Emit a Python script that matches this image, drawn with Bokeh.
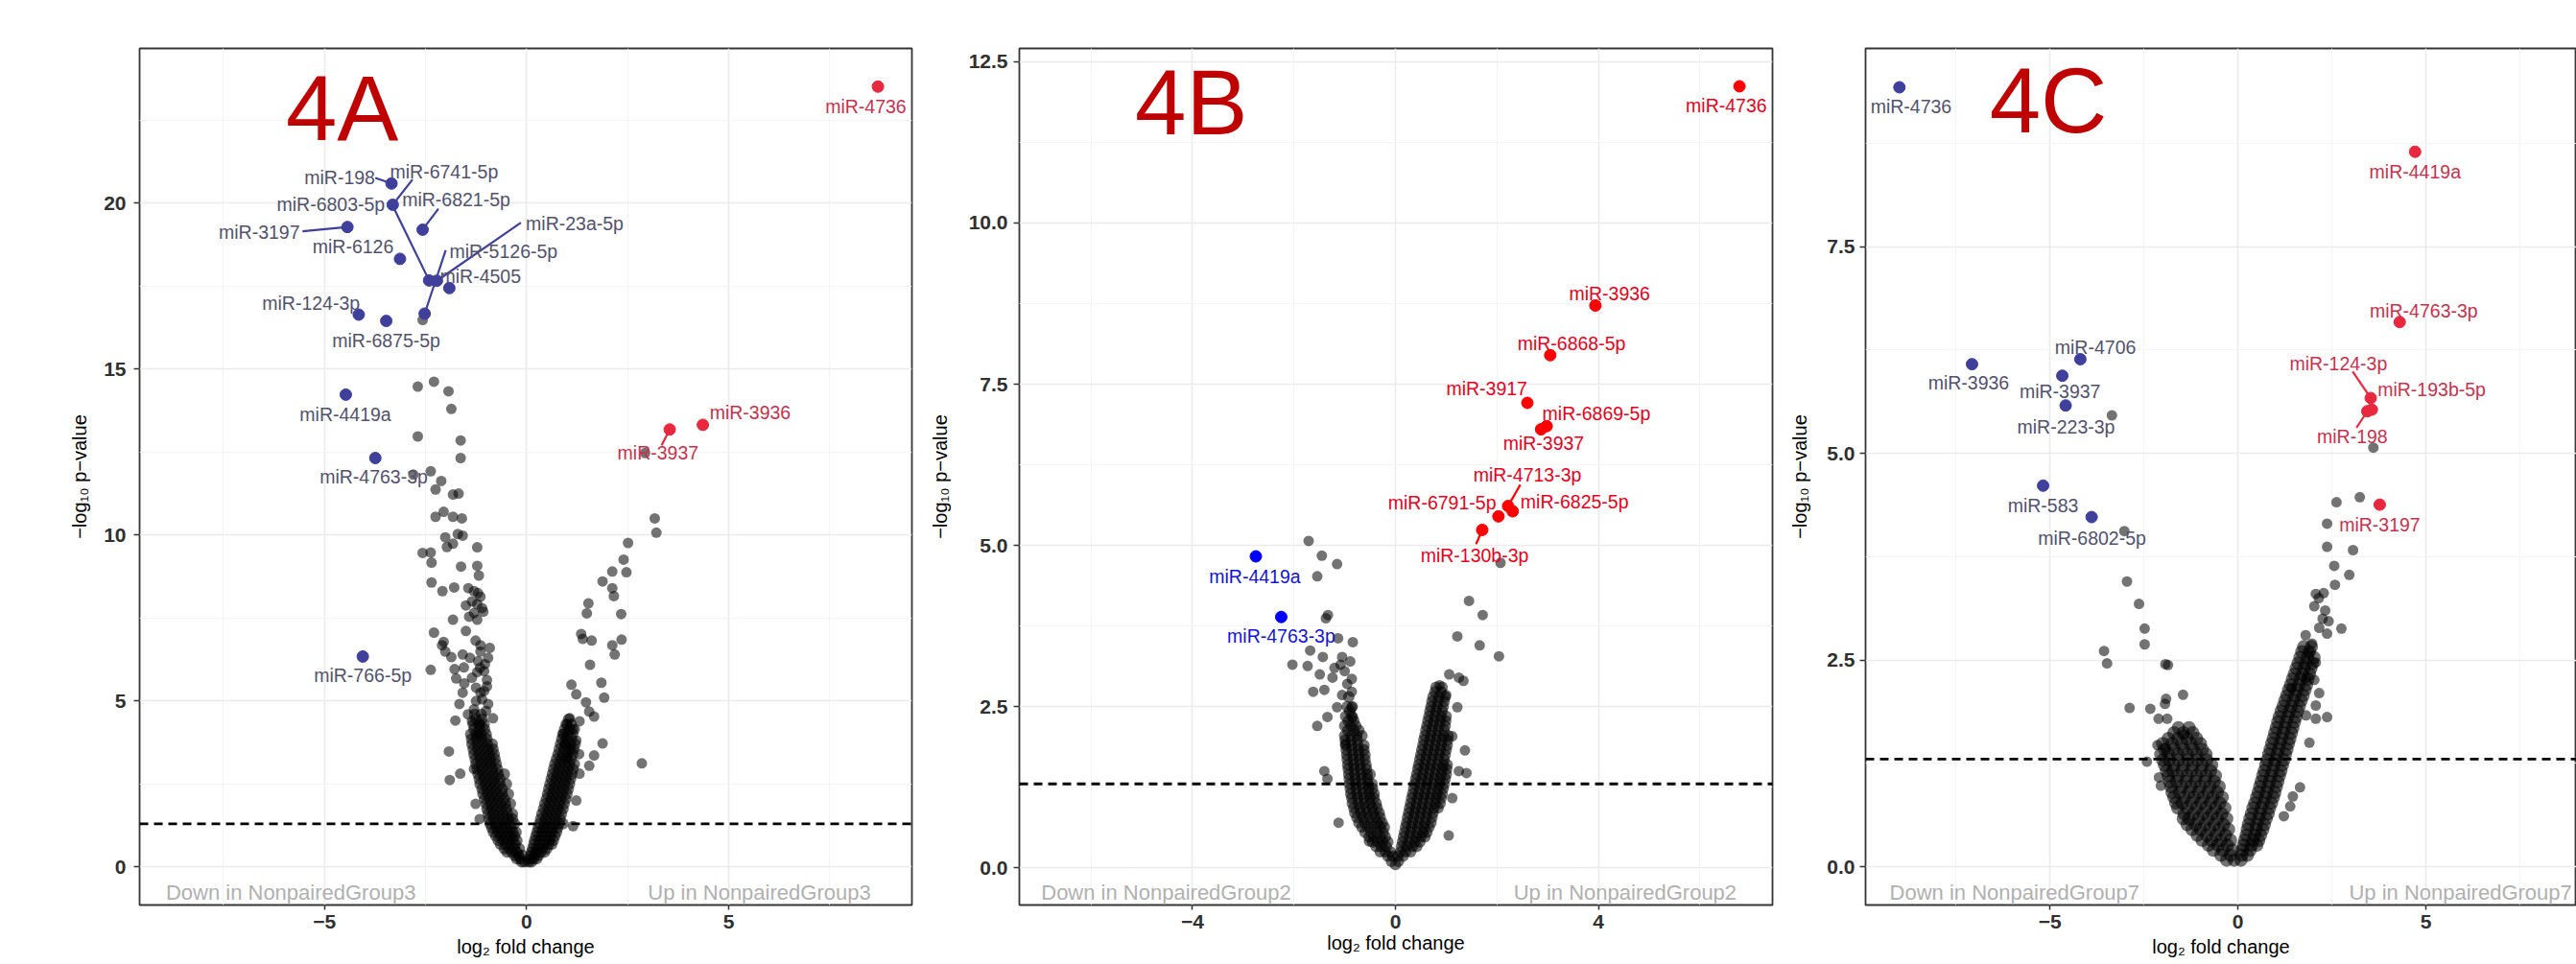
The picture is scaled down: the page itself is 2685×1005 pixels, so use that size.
import math
from bokeh.plotting import figure
from bokeh.layouts import row
from bokeh.models import FixedTicker, Span, Range1d, CustomJSTickFormatter
from bokeh.core.properties import value
from bokeh.embed import file_html
from bokeh.resources import INLINE

FONT = "Liberation Sans"
FONT_V = value(FONT)
P_THRESHOLD = 0.05

# ---------------- Panel 4A (NonpairedGroup3) ----------------
A_gray = [
    (-2.69, 14.47), (-2.29, 14.62), (-1.93, 14.33), (-1.86, 13.80), (-2.69, 12.97), (-1.63, 12.85),
    (-1.63, 12.32), (-2.80, 11.82), (-2.37, 11.92), (-2.11, 11.63), (-2.25, 11.37), (-1.82, 11.22),
    (-1.68, 11.25), (-2.25, 10.55), (-2.05, 10.70), (-1.82, 10.55), (-1.60, 10.50), (-2.01, 9.93),
    (-1.70, 10.03), (-1.58, 9.98), (-1.97, 9.64), (-1.82, 9.74), (-1.22, 9.63), (-2.57, 9.46),
    (-2.37, 9.47), (-2.35, 9.17), (-1.62, 9.05), (-1.22, 9.07), (-1.18, 8.78), (-2.35, 8.57),
    (-2.08, 8.31), (-1.79, 8.42), (-1.44, 8.40), (-1.30, 8.31), (-1.14, 8.14), (-1.50, 7.88),
    (-1.22, 7.92), (-1.07, 7.69), (-1.42, 7.54), (-1.22, 7.45), (-1.82, 7.45), (-2.29, 7.06),
    (-2.05, 6.78), (-1.50, 7.11), (-1.26, 6.82), (-1.14, 6.68), (-0.91, 6.60), (-2.01, 6.49),
    (-1.35, 8.00), (-1.20, 8.25), (-1.10, 7.80), (-1.30, 7.65),
    (-2.09, 6.68), (-1.86, 6.32), (-1.58, 6.40), (-1.40, 6.30), (-1.14, 6.49), (-1.03, 6.11),
    (-2.37, 5.94), (-1.78, 5.96), (-1.55, 6.01), (-1.74, 5.68), (-1.54, 5.53), (-1.22, 5.87),
    (-0.98, 5.63), (-1.58, 5.25), (-1.66, 4.91), (-1.30, 4.75), (-1.14, 5.25), (-0.98, 5.44),
    (-0.95, 4.91), (-1.76, 4.41), (-1.14, 4.29), (-0.83, 4.48), (-1.92, 3.48), (-1.30, 2.95),
    (-1.90, 2.62), (-1.64, 2.81), (-1.26, 1.90), (-1.16, 1.44),
    (-1.20, 6.20), (-1.05, 5.90), (-1.25, 5.40), (-1.10, 5.05), (-1.00, 4.70), (-1.35, 4.40), (-1.20, 4.00),
    (-1.45, 4.60), (-1.25, 5.00), (-1.05, 5.30), (-1.35, 5.70), (-1.15, 6.00), (-0.95, 6.30),
    (-2.57, 16.48),
    (2.93, 12.47), (3.17, 10.50), (3.21, 10.07), (2.51, 9.76), (2.40, 9.26), (2.12, 8.90),
    (2.47, 8.88), (1.88, 8.60), (2.12, 8.40), (2.16, 8.16), (1.53, 7.94), (1.49, 7.64),
    (2.34, 7.62), (1.35, 7.02), (1.61, 6.82), (2.12, 6.68), (2.35, 6.85), (1.39, 6.87),
    (2.18, 6.40), (1.57, 6.09), (1.85, 5.55), (1.92, 5.10), (1.11, 5.49), (1.23, 5.20),
    (1.47, 4.96), (1.55, 4.68), (1.67, 4.53), (1.07, 4.48), (1.31, 4.39), (0.91, 4.01),
    (1.23, 3.81), (1.88, 3.72), (1.67, 3.36), (1.55, 3.05), (1.31, 2.81), (2.85, 3.12),
    (1.23, 2.00), (1.15, 1.23),
    (1.00, 4.30), (1.15, 4.15), (0.95, 3.70), (1.10, 3.55), (1.30, 3.40), (1.00, 3.30),
]
A_core = [
    (-0.12, 0.15), (-0.05, 0.15), (0.05, 0.15), (0.12, 0.15),
    (-0.3, 0.35), (-0.2, 0.35), (-0.1, 0.35), (0.1, 0.35), (0.2, 0.35), (0.3, 0.35),
    (-0.55, 0.55), (-0.42, 0.55), (-0.3, 0.55), (-0.18, 0.55), (0.15, 0.55), (0.27, 0.55), (0.39, 0.55), (0.5, 0.55),
    (-0.7, 0.8), (-0.58, 0.8), (-0.46, 0.8), (-0.34, 0.8), (-0.24, 0.8), (0.2, 0.8), (0.32, 0.8), (0.44, 0.8), (0.56, 0.8), (0.66, 0.8),
    (-0.82, 1.05), (-0.7, 1.05), (-0.58, 1.05), (-0.46, 1.05), (-0.34, 1.05), (-0.26, 1.05),
    (0.26, 1.05), (0.38, 1.05), (0.5, 1.05), (0.62, 1.05), (0.74, 1.05),
    (-0.9, 1.3), (-0.78, 1.3), (-0.66, 1.3), (-0.54, 1.3), (-0.42, 1.3), (-0.3, 1.3),
    (0.32, 1.3), (0.44, 1.3), (0.56, 1.3), (0.68, 1.3), (0.8, 1.3), (0.9, 1.3),
    (-0.95, 1.6), (-0.83, 1.6), (-0.71, 1.6), (-0.59, 1.6), (-0.47, 1.6), (-0.35, 1.6),
    (0.38, 1.6), (0.5, 1.6), (0.62, 1.6), (0.74, 1.6), (0.86, 1.6),
    (-1.0, 1.9), (-0.88, 1.9), (-0.76, 1.9), (-0.64, 1.9), (-0.52, 1.9), (-0.4, 1.9),
    (0.45, 1.9), (0.57, 1.9), (0.69, 1.9), (0.81, 1.9), (0.93, 1.9),
    (-1.08, 2.2), (-0.96, 2.2), (-0.84, 2.2), (-0.72, 2.2), (-0.6, 2.2), (-0.45, 2.2),
    (0.52, 2.2), (0.64, 2.2), (0.76, 2.2), (0.88, 2.2), (1.0, 2.2),
    (-1.15, 2.5), (-1.02, 2.5), (-0.9, 2.5), (-0.78, 2.5), (-0.66, 2.5), (-0.5, 2.5),
    (0.58, 2.5), (0.7, 2.5), (0.82, 2.5), (0.94, 2.5), (1.06, 2.5),
    (-1.2, 2.8), (-1.08, 2.8), (-0.95, 2.8), (-0.82, 2.8), (-0.7, 2.8), (-0.55, 2.8),
    (0.64, 2.8), (0.76, 2.8), (0.88, 2.8), (1.0, 2.8), (1.12, 2.8),
    (-1.25, 3.1), (-1.12, 3.1), (-1.0, 3.1), (-0.88, 3.1), (-0.75, 3.1),
    (0.7, 3.1), (0.82, 3.1), (0.94, 3.1), (1.06, 3.1), (1.18, 3.1),
    (-1.3, 3.4), (-1.17, 3.4), (-1.04, 3.4), (-0.92, 3.4), (-0.8, 3.4), (0.78, 3.4), (0.9, 3.4), (1.02, 3.4), (1.14, 3.4),
    (-1.35, 3.7), (-1.22, 3.7), (-1.1, 3.7), (-0.97, 3.7), (-0.85, 3.7), (0.84, 3.7), (0.96, 3.7), (1.08, 3.7), (1.2, 3.7),
    (-1.38, 4.0), (-1.25, 4.0), (-1.12, 4.0), (-1.0, 4.0), (0.9, 4.0), (1.02, 4.0), (1.14, 4.0),
    (-1.32, 4.3), (-1.18, 4.3), (-1.05, 4.3), (0.98, 4.3), (1.1, 4.3),
    (-1.28, 4.6), (-1.12, 4.6),
    # staggered rows
    (-0.24, 0.25), (-0.15, 0.25), (0.08, 0.25), (0.17, 0.25), (0.25, 0.25),
    (-0.48, 0.45), (-0.36, 0.45), (-0.24, 0.45), (0.13, 0.45), (0.24, 0.45), (0.35, 0.45), (0.44, 0.45),
    (-0.64, 0.68), (-0.52, 0.68), (-0.4, 0.68), (-0.28, 0.68), (0.18, 0.68), (0.3, 0.68), (0.42, 0.68), (0.54, 0.68), (0.62, 0.68),
    (-0.76, 0.93), (-0.64, 0.93), (-0.52, 0.93), (-0.4, 0.93), (-0.3, 0.93), (0.23, 0.93), (0.35, 0.93), (0.47, 0.93), (0.59, 0.93), (0.7, 0.93),
    (-0.86, 1.18), (-0.74, 1.18), (-0.62, 1.18), (-0.5, 1.18), (-0.38, 1.18), (0.29, 1.18), (0.41, 1.18), (0.53, 1.18), (0.65, 1.18), (0.77, 1.18),
    (-0.93, 1.45), (-0.81, 1.45), (-0.69, 1.45), (-0.57, 1.45), (-0.45, 1.45), (-0.35, 1.45),
    (0.35, 1.45), (0.47, 1.45), (0.59, 1.45), (0.71, 1.45), (0.83, 1.45),
    (-0.98, 1.75), (-0.86, 1.75), (-0.74, 1.75), (-0.62, 1.75), (-0.5, 1.75), (0.42, 1.75), (0.54, 1.75), (0.66, 1.75), (0.78, 1.75), (0.9, 1.75),
    (-1.04, 2.05), (-0.92, 2.05), (-0.8, 2.05), (-0.68, 2.05), (-0.55, 2.05), (0.49, 2.05), (0.61, 2.05), (0.73, 2.05), (0.85, 2.05), (0.97, 2.05),
    (-1.1, 2.35), (-0.98, 2.35), (-0.86, 2.35), (-0.74, 2.35), (-0.6, 2.35), (0.55, 2.35), (0.67, 2.35), (0.79, 2.35), (0.91, 2.35), (1.03, 2.35),
    (-1.17, 2.65), (-1.05, 2.65), (-0.92, 2.65), (-0.8, 2.65), (-0.66, 2.65), (0.61, 2.65), (0.73, 2.65), (0.85, 2.65), (0.97, 2.65), (1.09, 2.65),
    (-1.22, 2.95), (-1.1, 2.95), (-0.97, 2.95), (-0.85, 2.95), (-0.72, 2.95), (0.67, 2.95), (0.79, 2.95), (0.91, 2.95), (1.03, 2.95), (1.15, 2.95),
    (-1.27, 3.25), (-1.15, 3.25), (-1.02, 3.25), (-0.9, 3.25), (-0.78, 3.25), (0.74, 3.25), (0.86, 3.25), (0.98, 3.25), (1.1, 3.25),
    (-1.32, 3.55), (-1.2, 3.55), (-1.07, 3.55), (-0.95, 3.55), (-0.83, 3.55), (0.81, 3.55), (0.93, 3.55), (1.05, 3.55), (1.17, 3.55),
    (-1.36, 3.85), (-1.24, 3.85), (-1.11, 3.85), (-0.98, 3.85), (0.87, 3.85), (0.99, 3.85), (1.11, 3.85),
    (-1.3, 4.15), (-1.17, 4.15), (-1.04, 4.15), (0.94, 4.15), (1.06, 4.15), (1.18, 4.15),
    (-1.25, 4.45), (-1.1, 4.45), (1.04, 4.45),
]
A_names = ["miR-198", "miR-6741-5p", "miR-6803-5p", "miR-6821-5p", "miR-3197", "miR-6126",
           "miR-23a-5p", "miR-5126-5p", "miR-4505", "miR-124-3p", "miR-6875-5p", "miR-4419a",
           "miR-4763-3p", "miR-766-5p", "miR-3936", "miR-3937", "miR-4736"]
A_x = [-3.34, -3.31, -2.41, -2.57, -4.43, -3.13, -2.22, -2.52, -1.91, -4.15, -3.47, -4.47, -3.74, -4.05, 4.36, 3.54, 8.69]
A_y = [20.59, 19.95, 17.67, 19.20, 19.28, 18.32, 17.66, 16.67, 17.44, 16.64, 16.45, 14.23, 12.32, 6.34, 13.32, 13.18, 23.51]
A_dir = ["down"] * 14 + ["up"] * 3
A_lab_x = [-4.62, -2.04, -4.84, -1.74, -6.61, -4.29, 1.19, -0.57, -1.14, -5.33, -3.47, -4.48, -3.78, -4.05, 5.53, 3.25, 8.39]
A_lab_y = [20.76, 20.95, 19.95, 20.11, 19.13, 18.68, 19.39, 18.56, 17.81, 16.99, 15.86, 13.63, 11.77, 5.76, 13.68, 12.47, 22.91]
A_leader = {"miR-198": (-3.74, 20.76), "miR-6741-5p": (-2.82, 20.71), "miR-6803-5p": (-3.31, 19.92),
            "miR-6821-5p": (-2.18, 19.83), "miR-3197": (-5.54, 19.15), "miR-23a-5p": (-0.14, 19.41),
            "miR-5126-5p": (-2.00, 18.58), "miR-3937": (3.34, 12.70)}

# ---------------- Panel 4B (NonpairedGroup2) ----------------
B_gray = [
    (-1.71, 5.07), (-1.45, 4.84), (-1.15, 4.71), (-1.54, 4.52), (-1.37, 3.87), (-1.33, 3.92),
    (-1.13, 3.56), (-0.84, 3.50), (-1.68, 3.37), (-1.43, 3.27), (-2.03, 3.15), (-1.73, 3.13),
    (-1.05, 3.27), (-0.89, 3.20), (-1.08, 3.15), (-1.49, 3.00), (-1.24, 2.95), (-0.86, 2.93),
    (-1.62, 2.73), (-1.40, 2.76), (-1.05, 2.68), (-0.86, 2.73), (-1.15, 2.49), (-0.86, 2.49),
    (-1.34, 2.34), (-1.54, 2.20), (-0.84, 2.34), (-0.99, 1.92), (-1.40, 1.50), (-1.34, 1.38),
    (-1.12, 0.70), (-0.52, 0.41), (-1.00, 3.05), (-0.95, 2.85), (-1.20, 3.10),
    (2.07, 4.73), (1.45, 4.14), (1.72, 3.92), (1.22, 3.59), (1.66, 3.45), (2.04, 3.28),
    (1.06, 3.00), (1.25, 2.95), (1.34, 2.90), (0.87, 2.83), (1.00, 2.68), (1.22, 2.49),
    (1.12, 2.04), (1.37, 1.82), (1.40, 1.47), (1.25, 1.50), (1.12, 1.08), (1.05, 0.50),
]
B_core = [
    (-0.08, 0.1), (0.0, 0.05), (0.06, 0.1),
    (-0.3, 0.25), (-0.2, 0.25), (-0.1, 0.25), (0.1, 0.25), (0.2, 0.25), (0.3, 0.25),
    (-0.45, 0.4), (-0.35, 0.4), (-0.25, 0.4), (-0.15, 0.4), (0.14, 0.4), (0.26, 0.4), (0.38, 0.4), (0.48, 0.4),
    (-0.6, 0.55), (-0.48, 0.55), (-0.36, 0.55), (-0.24, 0.55), (0.18, 0.55), (0.3, 0.55), (0.42, 0.55), (0.54, 0.55), (0.62, 0.55),
    (-0.72, 0.7), (-0.6, 0.7), (-0.48, 0.7), (-0.36, 0.7), (-0.26, 0.7), (0.22, 0.7), (0.34, 0.7), (0.46, 0.7), (0.58, 0.7), (0.7, 0.7),
    (-0.8, 0.85), (-0.68, 0.85), (-0.56, 0.85), (-0.44, 0.85), (-0.32, 0.85), (0.26, 0.85), (0.38, 0.85), (0.5, 0.85), (0.62, 0.85), (0.74, 0.85),
    (-0.85, 1.0), (-0.73, 1.0), (-0.61, 1.0), (-0.5, 1.0), (-0.38, 1.0), (0.3, 1.0), (0.42, 1.0), (0.54, 1.0), (0.66, 1.0), (0.78, 1.0), (0.88, 1.0),
    (-0.88, 1.15), (-0.76, 1.15), (-0.64, 1.15), (-0.52, 1.15), (-0.42, 1.15), (0.34, 1.15), (0.46, 1.15), (0.58, 1.15), (0.7, 1.15), (0.82, 1.15), (0.92, 1.15),
    (-0.9, 1.3), (-0.78, 1.3), (-0.66, 1.3), (-0.54, 1.3), (-0.46, 1.3), (0.38, 1.3), (0.5, 1.3), (0.62, 1.3), (0.74, 1.3), (0.86, 1.3), (0.96, 1.3),
    (-0.92, 1.45), (-0.8, 1.45), (-0.68, 1.45), (-0.56, 1.45), (-0.5, 1.45), (0.42, 1.45), (0.54, 1.45), (0.66, 1.45), (0.78, 1.45), (0.9, 1.45), (1.0, 1.45),
    (-0.94, 1.6), (-0.82, 1.6), (-0.7, 1.6), (-0.58, 1.6), (0.46, 1.6), (0.58, 1.6), (0.7, 1.6), (0.82, 1.6), (0.94, 1.6), (1.02, 1.6),
    (-0.96, 1.75), (-0.84, 1.75), (-0.72, 1.75), (-0.6, 1.75), (0.5, 1.75), (0.62, 1.75), (0.74, 1.75), (0.86, 1.75), (0.98, 1.75),
    (-0.98, 1.9), (-0.86, 1.9), (-0.74, 1.9), (-0.62, 1.9), (0.54, 1.9), (0.66, 1.9), (0.78, 1.9), (0.9, 1.9), (1.02, 1.9),
    (-1.0, 2.05), (-0.88, 2.05), (-0.76, 2.05), (-0.66, 2.05), (0.58, 2.05), (0.7, 2.05), (0.82, 2.05), (0.94, 2.05), (1.04, 2.05),
    (-1.0, 2.2), (-0.88, 2.2), (-0.78, 2.2), (0.62, 2.2), (0.74, 2.2), (0.86, 2.2), (0.98, 2.2),
    (-0.98, 2.35), (-0.86, 2.35), (0.66, 2.35), (0.78, 2.35), (0.9, 2.35), (1.0, 2.35),
    (-0.95, 2.5), (-0.85, 2.5), (0.7, 2.5), (0.82, 2.5), (0.94, 2.5),
    (-0.92, 2.65), (0.74, 2.65), (0.86, 2.65), (0.98, 2.65),
    (0.8, 2.8), (0.92, 2.8),
    # staggered rows
    (-0.15, 0.18), (-0.05, 0.18), (0.05, 0.18), (0.15, 0.18),
    (-0.38, 0.33), (-0.28, 0.33), (-0.18, 0.33), (0.12, 0.33), (0.22, 0.33), (0.34, 0.33), (0.42, 0.33),
    (-0.52, 0.48), (-0.42, 0.48), (-0.3, 0.48), (-0.2, 0.48), (0.16, 0.48), (0.28, 0.48), (0.4, 0.48), (0.5, 0.48), (0.58, 0.48),
    (-0.66, 0.63), (-0.54, 0.63), (-0.42, 0.63), (-0.3, 0.63), (-0.22, 0.63), (0.2, 0.63), (0.32, 0.63), (0.44, 0.63), (0.56, 0.63), (0.66, 0.63),
    (-0.76, 0.78), (-0.64, 0.78), (-0.52, 0.78), (-0.4, 0.78), (-0.3, 0.78), (0.24, 0.78), (0.36, 0.78), (0.48, 0.78), (0.6, 0.78), (0.72, 0.78),
    (-0.82, 0.93), (-0.7, 0.93), (-0.58, 0.93), (-0.46, 0.93), (-0.36, 0.93), (0.28, 0.93), (0.4, 0.93), (0.52, 0.93), (0.64, 0.93), (0.76, 0.93), (0.84, 0.93),
    (-0.86, 1.08), (-0.74, 1.08), (-0.62, 1.08), (-0.5, 1.08), (-0.42, 1.08), (0.32, 1.08), (0.44, 1.08), (0.56, 1.08), (0.68, 1.08), (0.8, 1.08), (0.9, 1.08),
    (-0.89, 1.23), (-0.77, 1.23), (-0.65, 1.23), (-0.53, 1.23), (-0.45, 1.23), (0.36, 1.23), (0.48, 1.23), (0.6, 1.23), (0.72, 1.23), (0.84, 1.23), (0.94, 1.23),
    (-0.91, 1.38), (-0.79, 1.38), (-0.67, 1.38), (-0.55, 1.38), (0.4, 1.38), (0.52, 1.38), (0.64, 1.38), (0.76, 1.38), (0.88, 1.38), (0.98, 1.38),
    (-0.93, 1.53), (-0.81, 1.53), (-0.69, 1.53), (-0.57, 1.53), (0.44, 1.53), (0.56, 1.53), (0.68, 1.53), (0.8, 1.53), (0.92, 1.53), (1.01, 1.53),
    (-0.95, 1.68), (-0.83, 1.68), (-0.71, 1.68), (-0.6, 1.68), (0.48, 1.68), (0.6, 1.68), (0.72, 1.68), (0.84, 1.68), (0.96, 1.68),
    (-0.97, 1.83), (-0.85, 1.83), (-0.73, 1.83), (-0.62, 1.83), (0.52, 1.83), (0.64, 1.83), (0.76, 1.83), (0.88, 1.83), (1.0, 1.83),
    (-0.99, 1.98), (-0.87, 1.98), (-0.75, 1.98), (0.56, 1.98), (0.68, 1.98), (0.8, 1.98), (0.92, 1.98), (1.03, 1.98),
    (-0.94, 2.13), (-0.82, 2.13), (-0.72, 2.13), (0.6, 2.13), (0.72, 2.13), (0.84, 2.13), (0.96, 2.13),
    (-0.93, 2.28), (-0.82, 2.28), (0.64, 2.28), (0.76, 2.28), (0.88, 2.28), (0.99, 2.28),
    (-0.9, 2.43), (0.68, 2.43), (0.8, 2.43), (0.92, 2.43),
    (0.72, 2.58), (0.84, 2.58), (0.96, 2.58), (0.78, 2.73), (0.9, 2.73),
]
B_names = ["miR-4736", "miR-3936", "miR-6868-5p", "miR-3917", "miR-6869-5p", "miR-3937",
           "miR-4713-3p", "miR-6791-5p", "miR-6825-5p", "miR-130b-3p", "miR-4419a", "miR-4763-3p"]
B_x = [6.78, 3.94, 3.05, 2.60, 2.98, 2.87, 2.22, 2.03, 2.31, 1.71, -2.75, -2.25]
B_y = [12.12, 8.72, 7.95, 7.21, 6.85, 6.80, 5.61, 5.45, 5.53, 5.24, 4.83, 3.89]
B_dir = ["up"] * 10 + ["down"] * 2
B_lab_x = [6.52, 4.22, 3.47, 1.80, 3.96, 2.92, 2.60, 0.92, 3.53, 1.56, -2.77, -2.25]
B_lab_y = [11.82, 8.91, 8.14, 7.43, 7.04, 6.58, 6.09, 5.66, 5.68, 4.84, 4.52, 3.59]
B_leader = {"miR-4713-3p": (2.46, 5.94), "miR-130b-3p": (1.59, 5.02)}

# ---------------- Panel 4C (NonpairedGroup7) ----------------
C_gray = [
    (-3.02, 4.06), (-2.95, 3.45), (-2.63, 3.18), (-2.48, 2.88), (-2.48, 2.69), (-3.56, 2.61),
    (-3.48, 2.46), (-1.93, 2.45), (-1.86, 2.44), (-1.46, 2.08), (-1.91, 2.03), (-2.88, 1.92),
    (-2.33, 1.91), (-1.94, 1.97), (-2.11, 1.79), (-1.88, 1.79), (-1.43, 1.60), (-2.14, 1.47),
    (-1.93, 1.43), (-2.42, 1.27), (-2.10, 1.08), (-2.05, 0.98), (-3.35, 5.46),
    (3.60, 5.07), (2.62, 4.41), (3.24, 4.47), (2.37, 4.15), (2.37, 3.87), (3.06, 3.83),
    (2.56, 3.64), (2.96, 3.53), (2.58, 3.41), (2.07, 3.30), (2.28, 3.31), (2.03, 3.15),
    (2.32, 3.10), (2.41, 2.97), (2.16, 2.89), (2.37, 2.82), (2.75, 2.88), (1.80, 2.80),
    (1.97, 2.70), (1.90, 2.59), (2.07, 2.47), (1.81, 2.28), (2.03, 2.26), (2.16, 2.10),
    (2.07, 1.95), (1.43, 2.16), (1.81, 1.83), (2.07, 1.79), (2.37, 1.81), (1.90, 1.50),
    (1.65, 0.96), (1.39, 0.73), (1.22, 0.61), (1.46, 0.85), (2.15, 3.25), (2.25, 3.00),
]
C_core = [
    (-0.1, 0.08), (-0.3, 0.08), (0.08, 0.08),
    (-0.15, 0.2), (-0.4, 0.2), (-0.65, 0.2), (0.12, 0.2), (0.32, 0.2),
    (-0.2, 0.32), (-0.45, 0.32), (-0.7, 0.32), (-0.95, 0.32), (0.18, 0.32), (0.4, 0.32), (0.55, 0.32),
    (-0.25, 0.45), (-0.5, 0.45), (-0.75, 0.45), (-1.0, 0.45), (-1.22, 0.45), (0.25, 0.45), (0.48, 0.45), (0.66, 0.45),
    (-0.3, 0.58), (-0.55, 0.58), (-0.8, 0.58), (-1.05, 0.58), (-1.3, 0.58), (-1.45, 0.58), (0.32, 0.58), (0.55, 0.58), (0.75, 0.58),
    (-0.35, 0.71), (-0.6, 0.71), (-0.85, 0.71), (-1.1, 0.71), (-1.35, 0.71), (-1.6, 0.71), (0.4, 0.71), (0.62, 0.71), (0.84, 0.71),
    (-0.42, 0.84), (-0.67, 0.84), (-0.92, 0.84), (-1.17, 0.84), (-1.42, 0.84), (-1.7, 0.84), (0.5, 0.84), (0.72, 0.84), (0.94, 0.84),
    (-0.5, 0.97), (-0.75, 0.97), (-1.0, 0.97), (-1.25, 0.97), (-1.5, 0.97), (-1.78, 0.97), (0.58, 0.97), (0.8, 0.97), (1.02, 0.97),
    (-0.6, 1.1), (-0.85, 1.1), (-1.1, 1.1), (-1.35, 1.1), (-1.6, 1.1), (-1.85, 1.1), (0.66, 1.1), (0.88, 1.1), (1.1, 1.1),
    (-0.7, 1.23), (-0.95, 1.23), (-1.2, 1.23), (-1.45, 1.23), (-1.7, 1.23), (-1.95, 1.23), (0.74, 1.23), (0.96, 1.23), (1.18, 1.23),
    (-0.85, 1.36), (-1.1, 1.36), (-1.35, 1.36), (-1.6, 1.36), (-1.85, 1.36), (-2.05, 1.36), (0.82, 1.36), (1.04, 1.36), (1.26, 1.36),
    (-1.0, 1.49), (-1.25, 1.49), (-1.5, 1.49), (-1.75, 1.49), (-2.0, 1.49), (0.9, 1.49), (1.12, 1.49), (1.34, 1.49),
    (-1.2, 1.62), (-1.45, 1.62), (-1.7, 1.62), (0.98, 1.62), (1.2, 1.62), (1.42, 1.62),
    (1.06, 1.75), (1.28, 1.75), (1.5, 1.75), (1.15, 1.88), (1.37, 1.88), (1.58, 1.88),
    (1.25, 2.01), (1.47, 2.01), (1.68, 2.01), (1.35, 2.14), (1.57, 2.14), (1.78, 2.14),
    (1.45, 2.27), (1.66, 2.27), (1.86, 2.27), (1.55, 2.4), (1.76, 2.4), (1.94, 2.4),
    (1.65, 2.53), (1.85, 2.53), (2.02, 2.53), (1.75, 2.66), (1.95, 2.66),
    # staggered rows
    (-0.2, 0.14), (-0.45, 0.14), (0.1, 0.14), (0.25, 0.14),
    (-0.28, 0.26), (-0.53, 0.26), (-0.78, 0.26), (0.15, 0.26), (0.36, 0.26), (0.5, 0.26),
    (-0.33, 0.38), (-0.58, 0.38), (-0.83, 0.38), (-1.08, 0.38), (0.22, 0.38), (0.44, 0.38), (0.6, 0.38),
    (-0.38, 0.51), (-0.63, 0.51), (-0.88, 0.51), (-1.13, 0.51), (-1.35, 0.51), (0.28, 0.51), (0.5, 0.51), (0.7, 0.51),
    (-0.43, 0.64), (-0.68, 0.64), (-0.93, 0.64), (-1.18, 0.64), (-1.43, 0.64), (0.36, 0.64), (0.58, 0.64), (0.8, 0.64),
    (-0.48, 0.77), (-0.73, 0.77), (-0.98, 0.77), (-1.23, 0.77), (-1.48, 0.77), (-1.65, 0.77), (0.45, 0.77), (0.67, 0.77), (0.89, 0.77),
    (-0.55, 0.9), (-0.8, 0.9), (-1.05, 0.9), (-1.3, 0.9), (-1.55, 0.9), (-1.75, 0.9), (0.54, 0.9), (0.76, 0.9), (0.98, 0.9),
    (-0.63, 1.03), (-0.88, 1.03), (-1.13, 1.03), (-1.38, 1.03), (-1.63, 1.03), (-1.82, 1.03), (0.62, 1.03), (0.84, 1.03), (1.06, 1.03),
    (-0.73, 1.16), (-0.98, 1.16), (-1.23, 1.16), (-1.48, 1.16), (-1.73, 1.16), (-1.9, 1.16), (0.7, 1.16), (0.92, 1.16), (1.14, 1.16),
    (-0.83, 1.29), (-1.08, 1.29), (-1.33, 1.29), (-1.58, 1.29), (-1.83, 1.29), (-2.0, 1.29), (0.78, 1.29), (1.0, 1.29), (1.22, 1.29),
    (-0.95, 1.42), (-1.2, 1.42), (-1.45, 1.42), (-1.7, 1.42), (-1.95, 1.42), (0.86, 1.42), (1.08, 1.42), (1.3, 1.42),
    (-1.1, 1.55), (-1.35, 1.55), (-1.6, 1.55), (-1.85, 1.55), (0.94, 1.55), (1.16, 1.55), (1.38, 1.55),
    (-1.3, 1.68), (-1.58, 1.68), (1.02, 1.68), (1.24, 1.68), (1.46, 1.68),
    (1.1, 1.81), (1.32, 1.81), (1.54, 1.81), (1.2, 1.94), (1.42, 1.94), (1.63, 1.94),
    (1.3, 2.07), (1.52, 2.07), (1.73, 2.07), (1.4, 2.2), (1.62, 2.2), (1.82, 2.2),
    (1.5, 2.33), (1.71, 2.33), (1.9, 2.33), (1.6, 2.46), (1.8, 2.46), (1.98, 2.46),
    (1.7, 2.6), (1.9, 2.6),
]
C_names = ["miR-4736", "miR-4419a", "miR-4763-3p", "miR-4706", "miR-3936", "miR-3937", "miR-223-3p",
           "miR-124-3p", "miR-193b-5p", "miR-198", "miR-583", "miR-6802-5p", "miR-3197"]
C_x = [-9.00, 4.71, 4.30, -4.19, -7.07, -4.67, -4.58, 3.53, 3.56, 3.44, -5.18, -3.89, 3.77]
C_y = [9.43, 8.65, 6.59, 6.14, 6.08, 5.94, 5.58, 5.67, 5.53, 5.51, 4.61, 4.23, 4.38]
C_dir = ["down", "up", "up", "down", "down", "down", "down", "up", "up", "up", "down", "down", "up"]
C_lab_x = [-8.69, 4.71, 4.94, -3.79, -7.16, -4.73, -4.57, 2.67, 5.15, 3.04, -5.18, -3.88, 3.77]
C_lab_y = [9.20, 8.41, 6.73, 6.29, 5.85, 5.75, 5.32, 6.09, 5.77, 5.20, 4.37, 3.98, 4.14]
C_leader = {"miR-124-3p": (3.05, 5.99), "miR-198": (3.15, 5.31)}

MUTED = dict(down_pt="#3F3F9C", up_pt="#E8283E", down_lab="#52526E", up_lab="#C8324E")
PURE = dict(down_pt="#0000FF", up_pt="#FF0000", down_lab="#1414D8", up_lab="#E8001C")

MINUS_FMT = "return tick < 0 ? '\u2212' + Math.abs(tick) : '' + tick;"
DEC_FMT = "return tick.toFixed(1);"
INT_FMT = "return '' + tick;"
FIG_H = 1004


def panel(width, borders, xr, yr, xticks, xminor, yticks, yminor, yfmt, ylab_standoff, ytick_standoff,
          xlab_standoff, gray, core, core_size, names, px, py, dirs, lx, ly, leaders, colors, tag, tag_xy,
          group, down_xy, up_xy, up_align):
    bl, br, bt, bb = borders
    p = figure(width=width, height=FIG_H, title=None, x_range=Range1d(*xr), y_range=Range1d(*yr),
               output_backend="svg", toolbar_location=None,
               min_border_left=bl, min_border_right=br, min_border_top=bt, min_border_bottom=bb)
    p.background_fill_color = "white"
    p.border_fill_color = "white"
    p.outline_line_color = "#363636"
    p.outline_line_width = 1.8

    p.xaxis.ticker = FixedTicker(ticks=xticks, minor_ticks=xminor)
    p.yaxis.ticker = FixedTicker(ticks=yticks, minor_ticks=yminor)
    p.xaxis.formatter = CustomJSTickFormatter(code=MINUS_FMT)
    p.yaxis.formatter = CustomJSTickFormatter(code=yfmt)
    for ax in (p.xaxis, p.yaxis):
        ax.axis_line_color = None
        ax.minor_tick_line_color = None
        ax.major_tick_line_color = "#333333"
        ax.major_tick_line_width = 1.5
        ax.major_tick_in = 0
        ax.major_label_text_font = FONT
        ax.major_label_text_font_style = "bold"
        ax.major_label_text_font_size = "21px"
        ax.major_label_text_line_height = 1.0
        ax.major_label_text_color = "#303030"
        ax.axis_label_text_font = FONT
        ax.axis_label_text_font_style = "normal"
        ax.axis_label_text_font_size = "20px"
        ax.axis_label_text_line_height = 1.0
        ax.axis_label_text_color = "black"
    p.xaxis.major_tick_out = 5
    p.yaxis.major_tick_out = 6
    p.xaxis.major_label_standoff = 5
    p.xaxis.axis_label_standoff = xlab_standoff
    p.yaxis.major_label_standoff = ytick_standoff
    p.yaxis.axis_label_standoff = ylab_standoff
    p.xaxis.axis_label = "log\u2082 fold change"
    p.yaxis.axis_label = "\u2212log\u2081\u2080 p\u2212value"

    for g in (p.xgrid, p.ygrid):
        g.grid_line_color = "#EBEBEB"
        g.grid_line_width = 1.6
        g.minor_grid_line_color = "#F4F4F4"
        g.minor_grid_line_width = 1.0

    # dense V-shaped core, then the scattered background points
    p.scatter([a for a, b in core], [b for a, b in core], size=core_size,
              fill_color="black", fill_alpha=0.55, line_color=None)
    p.scatter([a for a, b in gray], [b for a, b in gray], size=11,
              fill_color="black", fill_alpha=0.55, line_color=None)

    p.add_layout(Span(location=-math.log10(P_THRESHOLD), dimension="width",
                      line_color="black", line_width=2.8, line_dash="9 6"))

    for nm, x, y, d in zip(names, px, py, dirs):
        if nm in leaders:
            sx, sy = leaders[nm]
            p.segment(x0=[sx], y0=[sy], x1=[x], y1=[y], line_width=2.2,
                      line_color=colors[d + "_pt"])

    pcol = [colors[d + "_pt"] for d in dirs]
    lcol = [colors[d + "_lab"] for d in dirs]
    p.scatter(px, py, size=12, fill_color=pcol, line_color=pcol, fill_alpha=1.0)
    p.text(x=lx, y=ly, text=names, text_color=lcol, text_font=FONT_V, text_font_size="19.5px",
           text_align="center", text_baseline="middle")

    p.text(x=[down_xy[0]], y=[down_xy[1]], text=["Down in " + group], text_color="#B0B0B0",
           text_font=FONT_V, text_font_size="22px", text_align="left", text_baseline="middle")
    p.text(x=[up_xy[0]], y=[up_xy[1]], text=["Up in " + group], text_color="#B0B0B0",
           text_font=FONT_V, text_font_size="22px", text_align=up_align, text_baseline="middle")

    p.text(x=[tag_xy[0]], y=[tag_xy[1]], text=[tag], text_color="#C00000", text_font=FONT_V,
           text_font_size="96px", text_align="center", text_baseline="middle")
    return p


pA = panel(955, (145, 5, 43, 61), (-9.57, 9.53), (-1.147, 24.66),
           [-5, 0, 5], [-7.5, -2.5, 2.5, 7.5], [0, 5, 10, 15, 20], [2.5, 7.5, 12.5, 17.5, 22.5],
           INT_FMT, 11, 8, 5,
           A_gray, A_core, 12, A_names, A_x, A_y, A_dir, A_lab_x, A_lab_y, A_leader, MUTED,
           "4A", (-4.56, 22.88), "NonpairedGroup3", (-8.92, -0.76), (3.00, -0.76), "left")

pB = panel(897, (107, 5, 49, 57), (-7.41, 7.43), (-0.577, 12.707),
           [-4, 0, 4], [-6, -2, 2, 6], [0, 2.5, 5, 7.5, 10, 12.5], [1.25, 3.75, 6.25, 8.75, 11.25],
           DEC_FMT, 16, 6, 1,
           B_gray, B_core, 12, B_names, B_x, B_y, B_dir, B_lab_x, B_lab_y, B_leader, PURE,
           "4B", (-4.02, 11.88), "NonpairedGroup2", (-6.98, -0.39), (2.33, -0.39), "left")

pC = panel(833, (92, 0, 50, 61), (-9.90, 9.00), (-0.464, 9.90),
           [-5, 0, 5], [-7.5, -2.5, 2.5, 7.5], [0, 2.5, 5, 7.5], [1.25, 3.75, 6.25, 8.75],
           DEC_FMT, 14, 5, 5,
           C_gray, C_core, 14, C_names, C_x, C_y, C_dir, C_lab_x, C_lab_y, C_leader, MUTED,
           "4C", (-5.04, 9.27), "NonpairedGroup7", (-9.26, -0.31), (8.88, -0.31), "right")

layout = row(pA, pB, pC)
open("out.html", "w").write(file_html(layout, INLINE))
